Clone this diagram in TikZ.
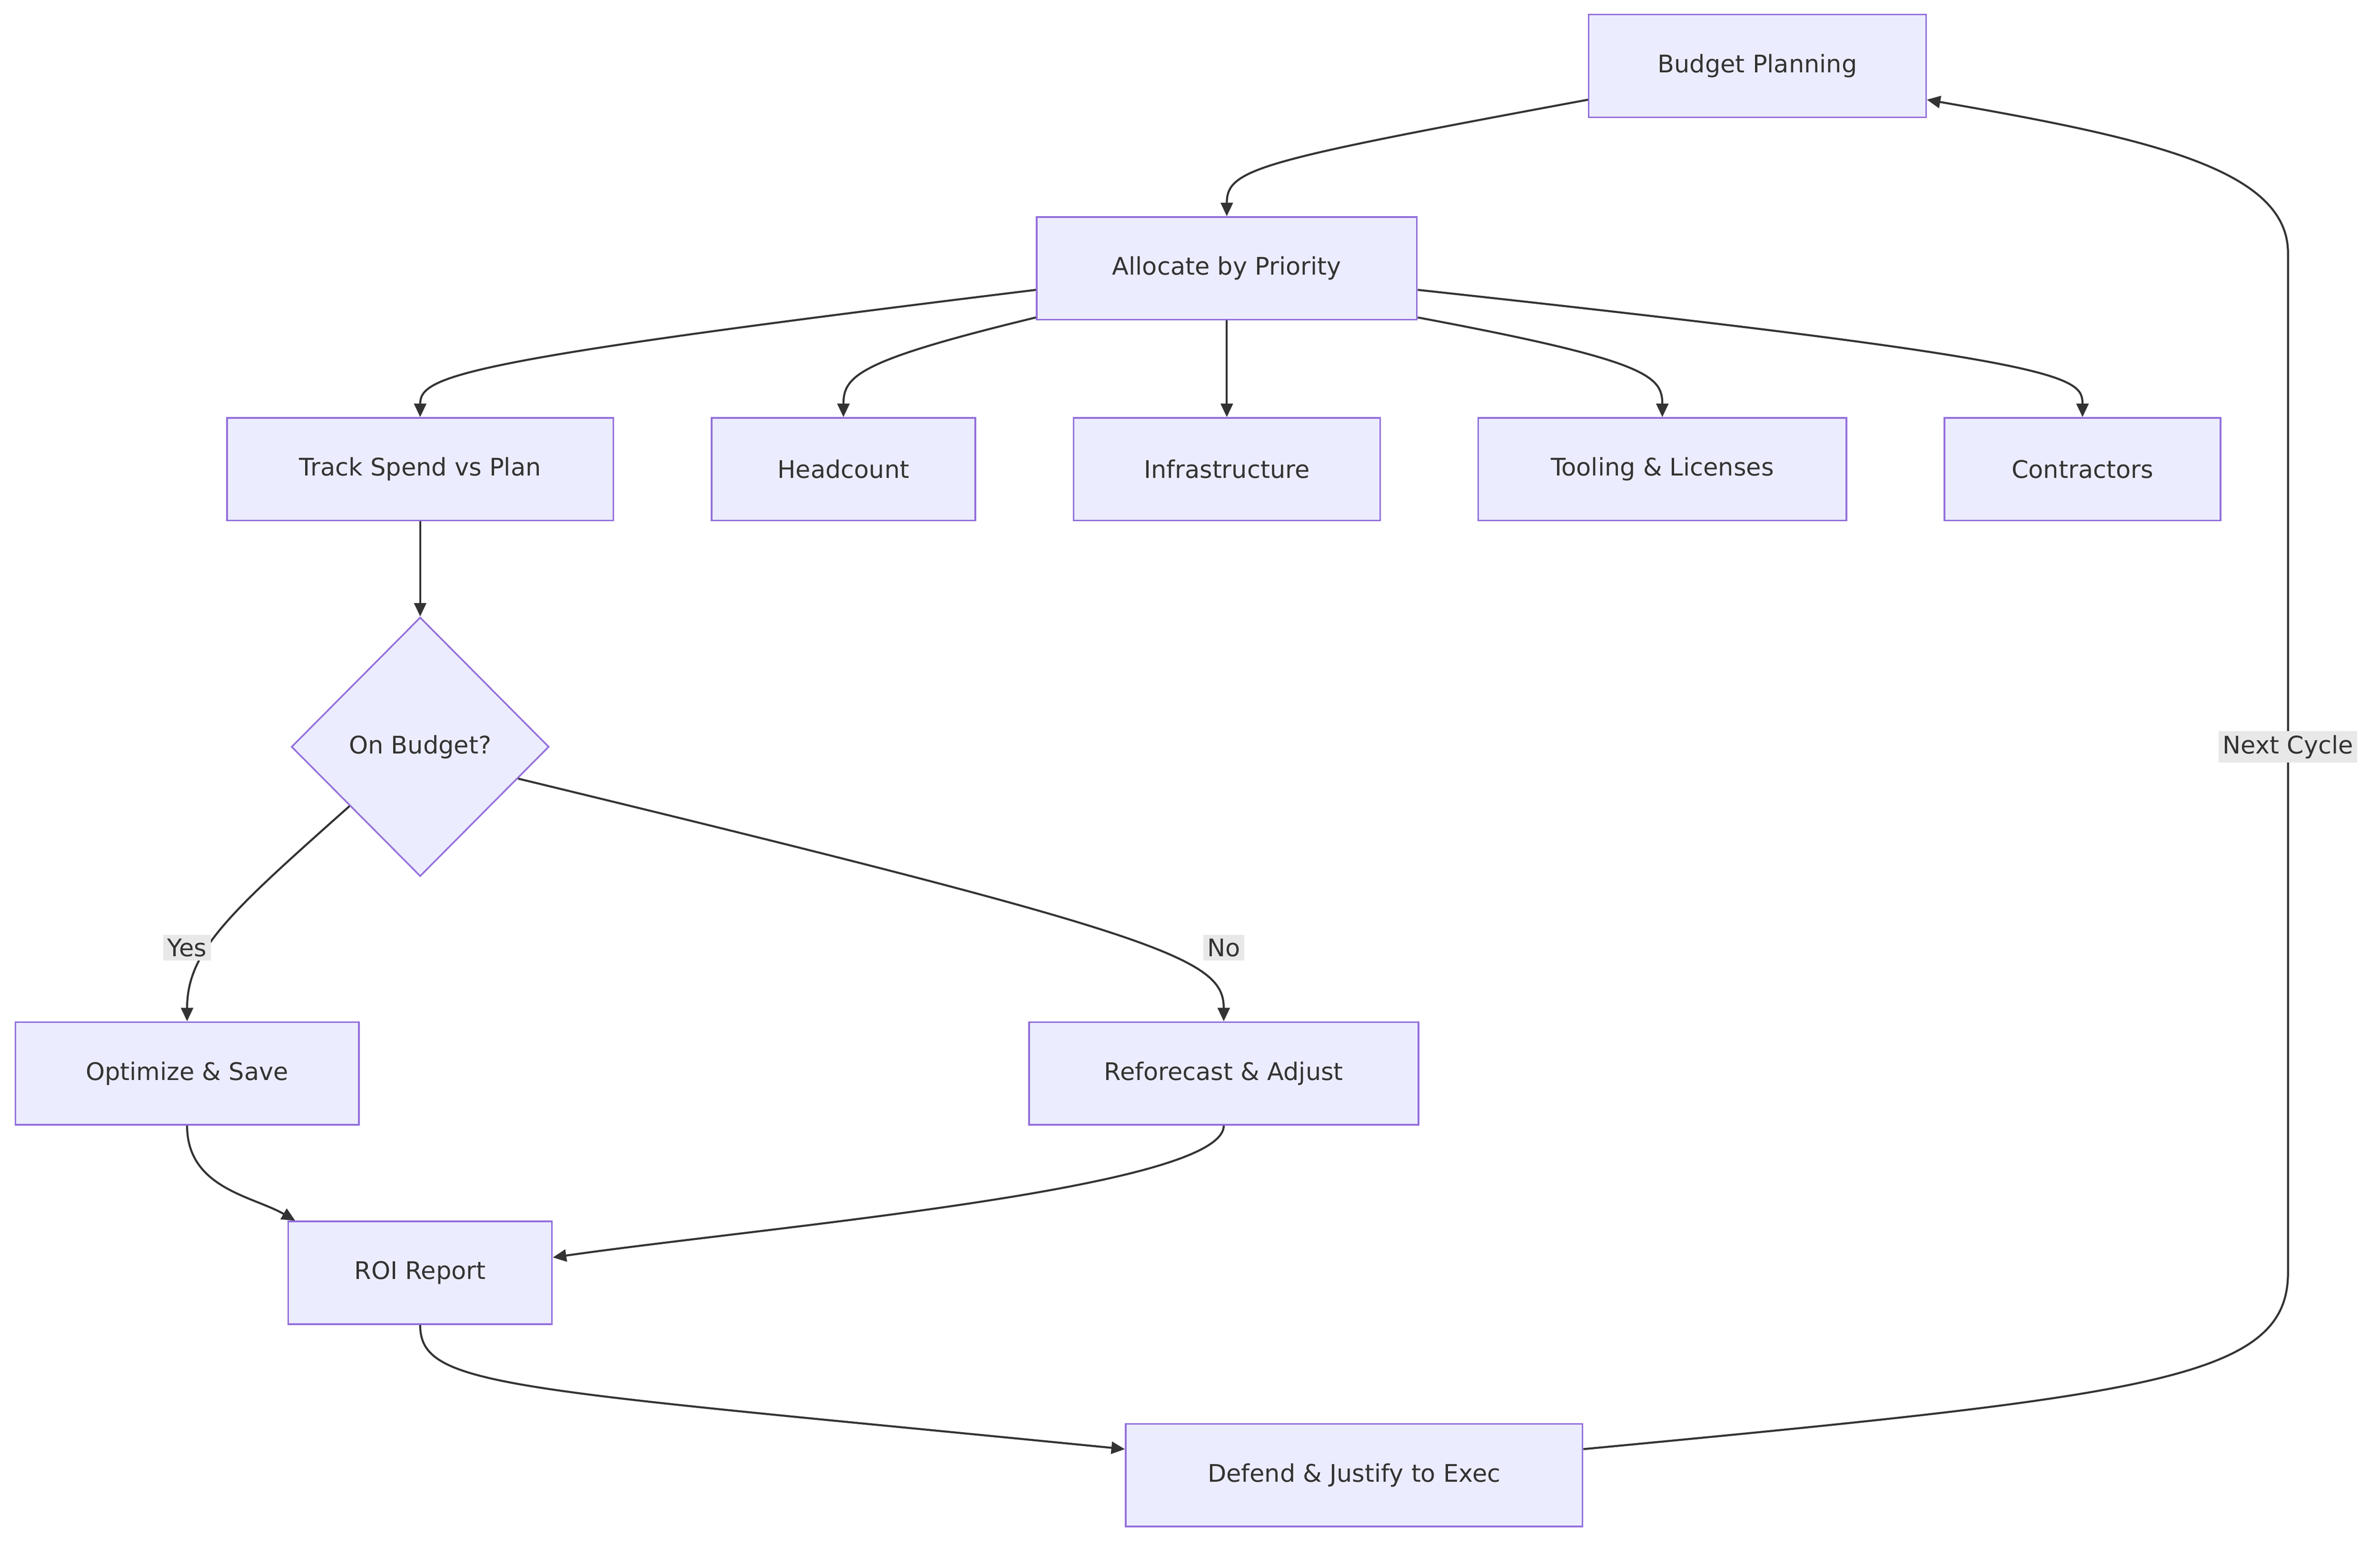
\documentclass[tikz,border=0pt]{standalone}
\usepackage{fontspec}
\setmainfont{DejaVu Sans}
\usetikzlibrary{shapes.geometric,arrows.meta,calc}
\definecolor{nfill}{HTML}{ECECFF}
\definecolor{nstroke}{HTML}{9370DB}
\definecolor{txt}{HTML}{333333}
\definecolor{lbg}{HTML}{E8E8E8}
\begin{document}
\begin{tikzpicture}[x=0.02cm,y=-0.02cm,
  box/.style={draw=nstroke,fill=nfill,line width=0.6pt,text=txt,font=\fontsize{9}{11}\selectfont,inner sep=0pt,minimum height=1.34cm},
  dia/.style={diamond,draw=nstroke,fill=nfill,line width=0.6pt,text=txt,font=\fontsize{9}{11}\selectfont,inner sep=0pt,minimum width=3.36cm,minimum height=3.38cm},
  edge/.style={draw=txt,line width=0.75pt,-{Triangle[length=5pt,width=4.5pt]}},
  lab/.style={fill=lbg,text=txt,font=\fontsize{9}{11}\selectfont,inner sep=1.5pt}]
\useasboundingbox (0,0) rectangle (1552,1008);
\node[box,minimum width=4.4cm] (bp) at (1146,43) {Budget Planning};
\node[box,minimum width=4.96cm] (al) at (800,175) {Allocate by Priority};
\node[box,minimum width=5.04cm] (tr) at (274,306) {Track Spend vs Plan};
\node[box,minimum width=3.44cm] (hc) at (550,306) {Headcount};
\node[box,minimum width=4cm] (inf) at (800,306) {Infrastructure};
\node[box,minimum width=4.8cm] (tl) at (1084,306) {Tooling \& Licenses};
\node[box,minimum width=3.6cm] (ct) at (1358,306) {Contractors};
\node[dia] (ob) at (274,487) {On Budget?};
\node[box,minimum width=4.48cm] (op) at (122,700) {Optimize \& Save};
\node[box,minimum width=5.08cm] (rf) at (798,700) {Reforecast \& Adjust};
\node[box,minimum width=3.44cm] (roi) at (274,830) {ROI Report};
\node[box,minimum width=5.96cm] (df) at (883,962) {Defend \& Justify to Exec};
\coordinate (c1) at (1492,830);
\coordinate (c2) at (1492,165);

\draw[edge] ($(bp.south west)+(0,-12)$) .. controls (820,105) and (800,110) .. (al.north);
\draw[edge] ($(al.south west)+(0,-20)$) .. controls (300,235) and (274,245) .. (tr.north);
\draw[edge] ($(al.south west)+(0,-2)$) .. controls (560,235) and (550,245) .. (hc.north);
\draw[edge] (al.south) -- (inf.north);
\draw[edge] ($(al.south east)+(0,-2)$) .. controls (1074,235) and (1084,245) .. (tl.north);
\draw[edge] ($(al.south east)+(0,-20)$) .. controls (1348,235) and (1358,245) .. (ct.north);
\draw[edge] (tr.south) -- (ob.north);
\draw[edge] (ob.-140) .. controls (150,595) and (122,620) .. (op.north);
\draw[edge] (ob.-18) .. controls (760,610) and (798,625) .. (rf.north);
\node[lab] (ly) at (122,618) {Yes};
\node[lab] (ln) at (798,618) {No};
\draw[edge] (op.south) .. controls (122,775) and (165,780) .. ($(roi.north west)+(5,0)$);
\draw[edge] (rf.south) .. controls (798,775) and (500,800) .. ($(roi.east)+(0,-10)$);
\draw[edge] (roi.south) .. controls (274,905) and (330,905) .. ($(df.west)+(0,-17)$);
\draw[edge] ($(df.east)+(0,-17)$) .. controls (1400,910) and (1492,900) .. (c1) -- (c2) .. controls (1492,110) and (1400,90) .. ($(bp.east)+(0,22)$);
\node[lab] (lnc) at (1492,487) {Next Cycle};
\end{tikzpicture}
\end{document}
